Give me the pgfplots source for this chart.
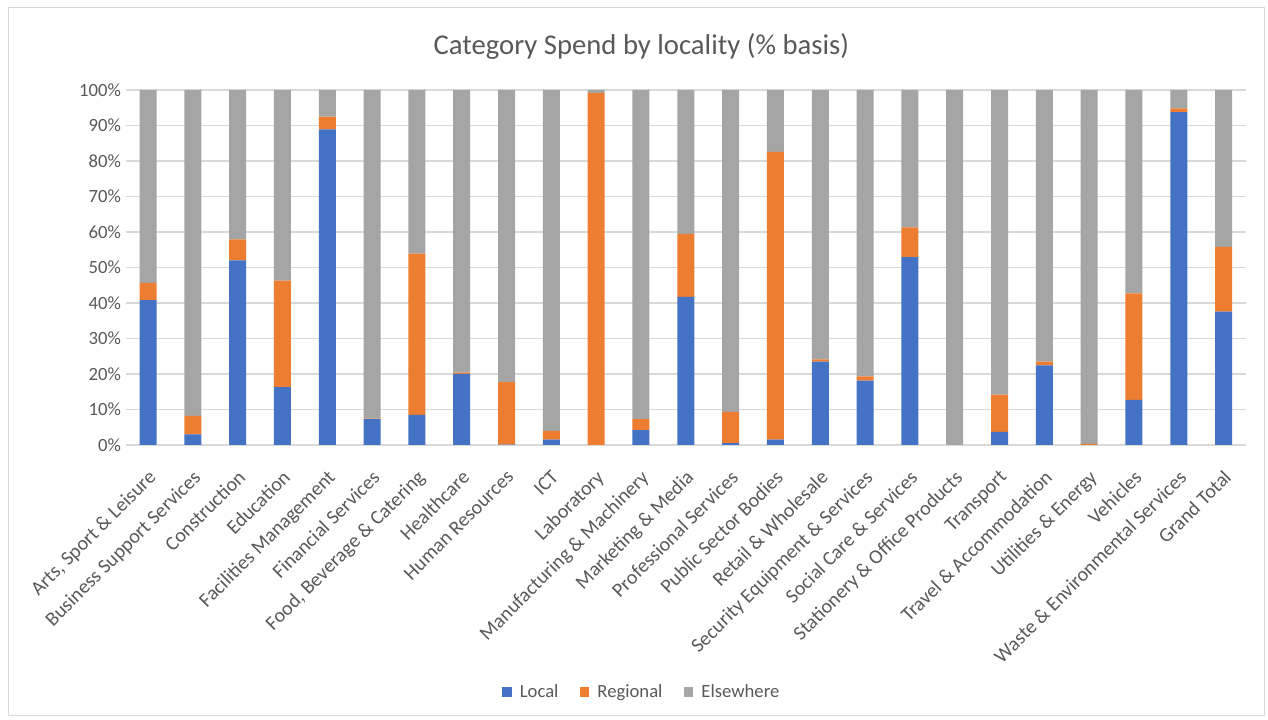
\documentclass[border=0pt]{standalone}
\usepackage{pgfplots}
\pgfplotsset{compat=1.18}
\usepackage{fontspec}
\setmainfont{Carlito}
\definecolor{cLocal}{HTML}{4472C4}
\definecolor{cRegional}{HTML}{ED7D31}
\definecolor{cElse}{HTML}{A5A5A5}
\definecolor{cGrid}{HTML}{D9D9D9}
\definecolor{cText}{HTML}{595959}
\begin{document}
\begin{tikzpicture}[x=1pt,y=1pt]
% canvas: 1268 x 720 px at 0.75 pt/px
\path[use as bounding box] (0,0) rectangle (951,540);
\draw[cGrid, line width=0.75pt] (6,3) rectangle (948,534);
\node[cText, font=\fontsize{21.5}{24}\selectfont] at (481,505.5) {Category Spend by locality (\% basis)};
\begin{axis}[
    at={(94.2pt,206.25pt)}, anchor=south west,
    width=840.3pt, height=266.25pt, scale only axis,
    xmin=-0.5, xmax=24.5, ymin=0, ymax=100,
    ybar stacked, bar width=12.75pt,
    axis line style={draw=none},
    major tick length=0pt,
    ymajorgrids, grid style={cGrid, line width=1pt},
    ytick={0,10,...,100},
    yticklabel={\pgfmathprintnumber{\tick}\%},
    /pgf/number format/assume math mode=true,
    ticklabel style={cText, font=\fontsize{14}{16}\selectfont},
    xtick={0,...,24},
    xticklabels={{Arts, Sport \& Leisure}, Business Support Services, Construction, Education,
      Facilities Management, Financial Services, {Food, Beverage \& Catering}, Healthcare,
      Human Resources, ICT, Laboratory, Manufacturing \& Machinery, Marketing \& Media,
      Professional Services, Public Sector Bodies, Retail \& Wholesale,
      Security Equipment \& Services, Social Care \& Services, Stationery \& Office Products,
      Transport, Travel \& Accommodation, Utilities \& Energy, Vehicles,
      Waste \& Environmental Services, Grand Total},
    xticklabel style={rotate=45, anchor=north east, inner sep=1pt, yshift=-11pt, xshift=-12pt,
      font=\fontsize{15}{17}\selectfont},
    legend style={at={(0.461,-0.696)}, anchor=center, draw=none, fill=none,
      legend columns=-1, font=\fontsize{14}{16}\selectfont, text=cText,
      /tikz/every even column/.append style={column sep=14pt}},
    legend image code/.code={\fill (0pt,-3.6pt) rectangle (7.2pt,3.6pt);},
]
\addplot[fill=cLocal, draw=none] coordinates {
 (0,40.8) (1,3.0) (2,52.0) (3,16.3) (4,88.9) (5,7.3) (6,8.5) (7,20.0) (8,0.1) (9,1.5)
 (10,0.0) (11,4.2) (12,41.7) (13,0.5) (14,1.5) (15,23.5) (16,18.1) (17,52.9) (18,0.0)
 (19,3.7) (20,22.4) (21,0.0) (22,12.7) (23,93.8) (24,37.6)};
\addlegendentry{\hspace{4pt}Local}
\addplot[fill=cRegional, draw=none] coordinates {
 (0,4.9) (1,5.2) (2,5.9) (3,30.0) (4,3.6) (5,0.1) (6,45.4) (7,0.4) (8,17.6) (9,2.5)
 (10,99.2) (11,3.1) (12,17.8) (13,8.8) (14,81.1) (15,0.6) (16,1.2) (17,8.4) (18,0.0)
 (19,10.5) (20,1.1) (21,0.3) (22,30.0) (23,1.0) (24,18.2)};
\addlegendentry{\hspace{4pt}Regional}
\addplot[fill=cElse, draw=none] coordinates {
 (0,54.3) (1,91.8) (2,42.1) (3,53.7) (4,7.5) (5,92.6) (6,46.1) (7,79.6) (8,82.3) (9,96.0)
 (10,0.8) (11,92.7) (12,40.5) (13,90.7) (14,17.4) (15,75.9) (16,80.7) (17,38.7) (18,100.0)
 (19,85.8) (20,76.5) (21,99.7) (22,57.3) (23,5.2) (24,44.2)};
\addlegendentry{\hspace{4pt}Elsewhere}
\end{axis}
\end{tikzpicture}
\end{document}
